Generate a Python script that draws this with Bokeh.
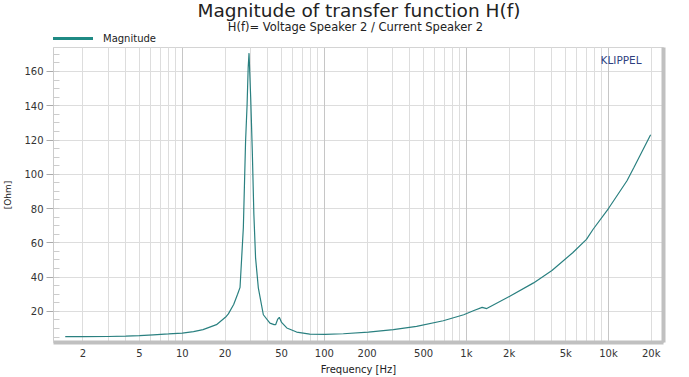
from bokeh.plotting import figure
from bokeh.layouts import column
from bokeh.models import Range1d, FixedTicker, Legend, LegendItem, Label, LinearAxis, Grid
from bokeh.embed import file_html
from bokeh.resources import INLINE

freq_hz = [1.5, 2, 3, 4, 5, 6.25, 8, 10, 12, 14, 17.4, 20.4, 21.1, 23, 24.5, 25.5,
           26.9, 27.9, 28.6, 29.1, 29.5, 30.3, 31.1, 31.9, 32.8, 34.3, 37.2, 41.4,
           44.3, 45.4, 47, 48.2, 50, 54.4, 63.8, 79, 101, 136, 204, 306, 446, 687,
           957, 1130, 1290, 1390, 2020, 2970, 4000, 5600, 7000, 7800, 10000, 13500,
           15100, 19800]
impedance_ohm = [5.2, 5.2, 5.3, 5.5, 5.8, 6.3, 6.8, 7.3, 8.1, 9.3, 12.2, 17.0, 18.5, 24.0, 30.0, 34.0,
                 68.8, 119.6, 141.0, 162.5, 170.7, 145.0, 113.7, 76.8, 51.2, 33.7, 18.0, 13.1,
                 12.2, 12.2, 15.5, 16.5, 13.5, 10.3, 7.9, 6.7, 6.5, 6.9, 7.9, 9.3, 11.2, 14.5,
                 18.0, 20.5, 22.3, 21.6, 28.8, 36.6, 43.8, 54.2, 62.0, 67.9, 80.0, 96.2,
                 104.0, 123.1]

x_tick_values = [2, 5, 10, 20, 50, 100, 200, 500, 1000, 2000, 5000, 10000, 20000]
x_tick_labels = ["2", "5", "10", "20", "50", "100", "200", "500", "1k", "2k", "5k", "10k", "20k"]
y_tick_values = [20, 40, 60, 80, 100, 120, 140, 160]

FONT = "DejaVu Sans"
LINE = "#2a8080"
TOP_H = 44

# ---------- header: titles and legend ----------
top = figure(width=689, height=TOP_H, x_range=Range1d(0, 689), y_range=Range1d(0, TOP_H),
             output_backend="svg", toolbar_location=None,
             x_axis_location=None, y_axis_location=None,
             min_border_left=0, min_border_right=0, min_border_top=0, min_border_bottom=0)
top.grid.visible = False
top.outline_line_color = None
top.add_layout(Label(x=345, y=TOP_H - 10, text="Magnitude of transfer function H(f)",
                     text_font=FONT, text_font_size="18.5px", text_color="#222222",
                     text_align="center", text_baseline="middle"))
top.add_layout(Label(x=341, y=TOP_H - 26, text="H(f)= Voltage Speaker 2 / Current Speaker 2",
                     text_font=FONT, text_font_size="11.5px", text_color="#222222",
                     text_align="center", text_baseline="middle"))
key = top.line(x=[-60, -50], y=[-60, -60], line_color="#1f8a84", line_width=3)
top.add_layout(Legend(items=[LegendItem(label="Magnitude", renderers=[key])],
                      location=(-2, 0), orientation="horizontal",
                      label_text_font=FONT, label_text_font_size="10px", label_text_color="#222222",
                      glyph_width=42, glyph_height=10, label_standoff=10, padding=0, margin=0,
                      border_line_color=None, background_fill_alpha=0, label_height=12))

# ---------- main plot ----------
p = figure(width=689, height=377 - TOP_H, x_axis_type="log",
           x_range=Range1d(1.24, 24400), y_range=Range1d(1.8, 174),
           output_backend="svg", toolbar_location=None,
           min_border_left=50, min_border_right=26, min_border_bottom=35, min_border_top=3)

p.outline_line_color = "#d4d4d4"
p.background_fill_color = "white"

minor_x = []
for dec in [1, 10, 100, 1000, 10000]:
    for m in range(1, 10):
        v = m * dec
        if 1.24 <= v <= 24400:
            minor_x.append(v)

r = p.line(freq_hz, impedance_ohm, line_color=LINE, line_width=1.2)

xa = p.xaxis[0]
xa.ticker = FixedTicker(ticks=x_tick_values, minor_ticks=[])
xa.major_label_overrides = {v: l for v, l in zip(x_tick_values, x_tick_labels)}
xa.major_tick_line_color = None
xa.minor_tick_line_color = None
xa.major_tick_in = 0
xa.major_tick_out = 0
xa.minor_tick_in = 0
xa.minor_tick_out = 0
xa.axis_line_color = "#c0c0c0"
xa.axis_line_width = 4
xa.axis_label = "Frequency [Hz]"
xa.axis_label_text_font = FONT
xa.axis_label_text_font_style = "normal"
xa.axis_label_text_font_size = "10px"
xa.axis_label_text_color = "#222222"
xa.axis_label_standoff = 2
xa.major_label_text_font = FONT
xa.major_label_text_font_size = "10px"
xa.major_label_text_color = "#333333"
xa.major_label_standoff = 5

ya = p.yaxis[0]
ya.ticker = FixedTicker(ticks=y_tick_values, minor_ticks=list(range(5, 175, 5)))
ya.major_tick_out = 7
ya.major_tick_in = 0
ya.minor_tick_in = 6
ya.minor_tick_out = 0
ya.major_tick_line_color = "#aaaaaa"
ya.minor_tick_line_color = "#cccccc"
ya.axis_line_color = "#cccccc"
ya.axis_label = "[Ohm]"
ya.axis_label_text_font = FONT
ya.axis_label_text_font_style = "normal"
ya.axis_label_text_font_size = "9px"
ya.axis_label_text_color = "#222222"
ya.axis_label_standoff = 8
ya.major_label_text_font = FONT
ya.major_label_text_font_size = "10px"
ya.major_label_text_color = "#333333"
ya.major_label_standoff = 3

p.xgrid[0].ticker = FixedTicker(ticks=minor_x)
p.xgrid[0].grid_line_color = "#dddddd"
p.ygrid[0].grid_line_color = "#dddddd"
p.add_layout(Grid(dimension=0, ticker=FixedTicker(ticks=[10, 100, 1000, 10000]),
                  grid_line_color="#c6c6c6"))

ra = LinearAxis(ticker=FixedTicker(ticks=[]), axis_line_color="#c0c0c0", axis_line_width=4,
                major_tick_line_color=None, minor_tick_line_color=None,
                major_label_text_font_size="0px")
p.add_layout(ra, "right")

p.add_layout(Label(x=8800, y=166.5, text="KLIPPEL", text_font=FONT, text_font_size="10.5px",
                   text_color="#2e3f80", text_baseline="middle", text_align="left"))

layout = column(top, p, spacing=0)
open("out.html", "w").write(file_html(layout, INLINE))
